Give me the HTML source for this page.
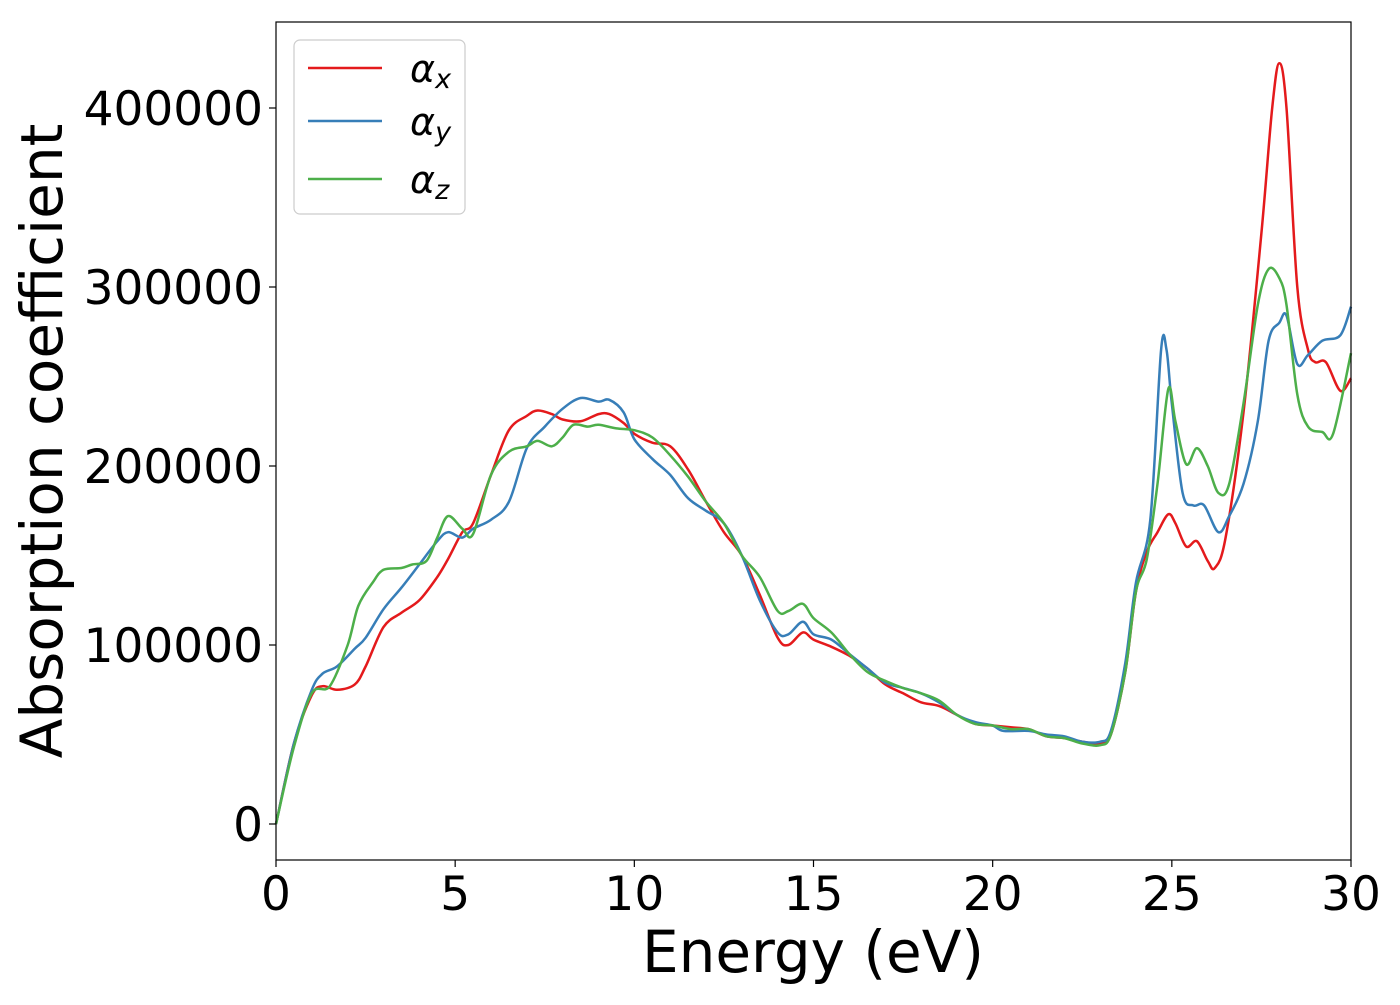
<!DOCTYPE html>
<html><head><meta charset="utf-8"><style>
body{margin:0;background:#fff;}
svg text{font-family:"DejaVu Sans","Liberation Sans",sans-serif;fill:#000;}
</style></head><body>
<svg id="chart" width="1400" height="1000" viewBox="0 0 1400 1000" xmlns="http://www.w3.org/2000/svg">
<rect x="0" y="0" width="1400" height="1000" fill="#fff"/>
<g id="plot"></g>
<rect x="276" y="22" width="1075" height="838" fill="none" stroke="#000" stroke-width="1.2"/>
<g id="ticks"></g>
<text x="813" y="972" font-size="58" text-anchor="middle">Energy (eV)</text>
<text transform="translate(62,441) rotate(-90)" font-size="58" text-anchor="middle">Absorption coefficient</text>
<g>
<rect x="294" y="40" width="171" height="174" rx="6" fill="#fff" fill-opacity="0.8" stroke="#ccc" stroke-width="1.2"/>
<line x1="308" y1="68" x2="382" y2="68" stroke="#e41a1c" stroke-width="2.5"/>
<line x1="308" y1="121" x2="382" y2="121" stroke="#377eb8" stroke-width="2.5"/>
<line x1="308" y1="179" x2="382" y2="179" stroke="#4daf4a" stroke-width="2.5"/>
<text x="410" y="82" font-size="38" font-style="italic">α<tspan font-size="27" dy="6">x</tspan></text>
<text x="410" y="135" font-size="38" font-style="italic">α<tspan font-size="27" dy="6">y</tspan></text>
<text x="410" y="193" font-size="38" font-style="italic">α<tspan font-size="27" dy="6">z</tspan></text>
</g>
</svg>
<script>
const xTickLabels=[0,5,10,15,20,25,30];
const yTickLabels=[0,100000,200000,300000,400000];
const axX=[0,0.5,1,1.3,1.7,2.2,2.5,3,3.5,4,4.5,4.8,5.2,5.5,6,6.5,7,7.3,7.7,8,8.5,9,9.3,9.7,10,10.5,11,11.5,12,12.5,13,13.5,14,14.3,14.7,15,15.5,16,16.5,17,17.5,18,18.5,19,19.5,20,20.5,21,21.5,22,22.5,23,23.3,23.7,24,24.3,24.6,24.9,25.1,25.4,25.7,26,26.2,26.5,27,27.5,27.8,28,28.2,28.5,28.8,29,29.3,29.7,30];
const axY=[0,45,72,77,75,78,88,110,118,125,138,148,163,168,195,220,228,231,229,226,225,229,229,224,218,213,211,198,180,163,150,128,104,100,107,103,99,94,87,78,73,68,66,61,56,55,54,53,49,48,46,45,50,85,130,152,163,173,168,155,158,147,143,160,230,330,400,425,400,300,265,258,258,242,249];
const ayX=[0,0.5,1,1.3,1.7,2.2,2.5,3,3.5,4,4.5,4.8,5.2,5.5,6,6.5,7,7.5,8,8.5,9,9.3,9.7,10,10.5,11,11.5,12,12.5,13,13.5,14,14.3,14.7,15,15.5,16,16.5,17,17.5,18,18.5,19,19.5,20,20.3,21,21.5,22,22.5,23,23.3,23.7,24,24.4,24.7,24.85,25,25.3,25.6,25.9,26.3,26.6,27,27.4,27.7,28,28.2,28.5,28.8,29.2,29.7,30];
const ayY=[0,45,75,84,88,98,104,120,132,145,158,163,160,165,170,180,210,222,232,238,236,237,230,215,204,195,182,175,168,150,125,107,106,113,106,103,95,87,79,76,73,68,61,57,55,52,52,50,49,46,46,52,90,135,170,265,265,235,185,178,178,163,172,190,225,270,280,284,257,262,270,273,289];
const azX=[0,0.5,1,1.5,2,2.3,2.7,3,3.5,3.8,4.2,4.5,4.8,5.2,5.5,6,6.5,7,7.3,7.7,8,8.3,8.7,9,9.5,10,10.5,11,11.5,12,12.5,13,13.5,14,14.3,14.7,15,15.5,16,16.5,17,17.5,18,18.5,19,19.5,20,20.5,21,21.5,22,22.5,23,23.3,23.7,24,24.3,24.6,24.9,25.1,25.4,25.7,26,26.3,26.6,27,27.4,27.7,28,28.2,28.5,28.8,29.2,29.5,30];
const azY=[0,43,73,77,100,122,135,142,143,145,147,160,172,165,162,195,208,211,214,211,216,223,222,223,221,220,216,206,194,180,168,150,138,119,119,123,115,107,95,85,80,76,73,69,61,56,55,53,53,49,48,45,44,50,85,130,148,190,243,225,201,210,200,185,190,235,290,310,305,290,240,222,219,218,263];
const sx=v=>276+v*(1075/30);
const sy=v=>824-v*0.00179;
const NS='http://www.w3.org/2000/svg';
function smooth(xs,ys){
  const p=xs.map((x,i)=>[sx(x),sy(ys[i]*1000)]);
  let d='M'+p[0][0].toFixed(1)+','+p[0][1].toFixed(1);
  for(let i=0;i<p.length-1;i++){
    const p0=p[Math.max(0,i-1)],p1=p[i],p2=p[i+1],p3=p[Math.min(p.length-1,i+2)];
    const c1=[p1[0]+(p2[0]-p0[0])/6,p1[1]+(p2[1]-p0[1])/6];
    const c2=[p2[0]-(p3[0]-p1[0])/6,p2[1]-(p3[1]-p1[1])/6];
    d+=`C${c1[0].toFixed(1)},${c1[1].toFixed(1)} ${c2[0].toFixed(1)},${c2[1].toFixed(1)} ${p2[0].toFixed(1)},${p2[1].toFixed(1)}`;
  }
  return d;
}
const plot=document.getElementById('plot');
[[axX,axY,'#e41a1c','series-alpha-x'],[ayX,ayY,'#377eb8','series-alpha-y'],[azX,azY,'#4daf4a','series-alpha-z']].forEach(s=>{
  const el=document.createElementNS(NS,'path');
  el.setAttribute('d',smooth(s[0],s[1]));
  el.setAttribute('fill','none');el.setAttribute('stroke',s[2]);el.setAttribute('stroke-width','2.5');
  
  
  plot.appendChild(el);
});
const ticks=document.getElementById('ticks');
xTickLabels.forEach(v=>{
  const l=document.createElementNS(NS,'line');
  l.setAttribute('x1',sx(v));l.setAttribute('x2',sx(v));l.setAttribute('y1',860);l.setAttribute('y2',867);l.setAttribute('stroke','#000');l.setAttribute('stroke-width','1.2');
  
  
  ticks.appendChild(l);
  const t=document.createElementNS(NS,'text');
  t.setAttribute('x',sx(v));t.setAttribute('y',910);t.setAttribute('font-size','47');t.setAttribute('text-anchor','middle');
  t.textContent=v;
  
  
  ticks.appendChild(t);
});
yTickLabels.forEach(v=>{
  const l=document.createElementNS(NS,'line');
  l.setAttribute('x1',269);l.setAttribute('x2',276);l.setAttribute('y1',sy(v));l.setAttribute('y2',sy(v));l.setAttribute('stroke','#000');l.setAttribute('stroke-width','1.2');
  
  
  ticks.appendChild(l);
  const t=document.createElementNS(NS,'text');
  t.setAttribute('x',263);t.setAttribute('y',sy(v)+17);t.setAttribute('font-size','47');t.setAttribute('text-anchor','end');
  t.textContent=v;
  
  
  ticks.appendChild(t);
});
</script>
</body></html>
